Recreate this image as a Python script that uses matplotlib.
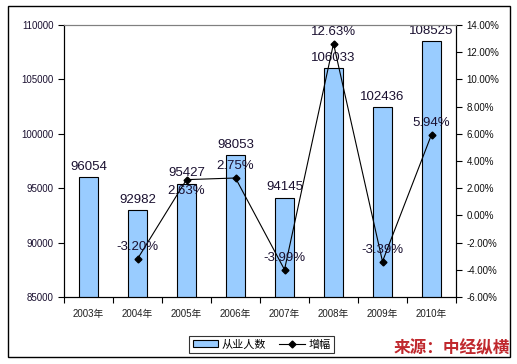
import matplotlib
matplotlib.use("Agg")
import matplotlib.pyplot as plt
from matplotlib.patches import Patch, Rectangle
from matplotlib.lines import Line2D
import numpy as np

plt.rcParams['font.family'] = ['Liberation Sans', 'Noto Sans CJK SC', 'DejaVu Sans']

years = ["2003年", "2004年", "2005年", "2006年", "2007年", "2008年", "2009年", "2010年"]
employees = [96054, 92982, 95427, 98053, 94145, 106033, 102436, 108525]
growth = [None, -3.20, 2.63, 2.75, -3.99, 12.63, -3.39, 5.94]
growth_labels = ["", "-3.20%", "2.63%", "2.75%", "-3.99%", "12.63%", "-3.39%", "5.94%"]
growth_label_pos = ["", "above", "below", "above", "above", "above", "above", "above"]

fig = plt.figure(figsize=(5.17, 3.64), dpi=100)
ax = fig.add_axes([64/517, 67/364, 392/517, 272/364])
ax2 = ax.twinx()

x = np.arange(len(years))
bars = ax.bar(x, employees, width=0.4, color="#99ccff", edgecolor="black", linewidth=0.8, zorder=2)
ax.set_xlim(-0.5, len(years) - 0.5)
ax.set_ylim(85000, 110000)
ax.set_yticks(np.arange(85000, 110001, 5000))
ax.set_xticks(x)
ax.set_xticklabels(years, fontsize=7, color="#202020")
ax.set_xticks(np.arange(-0.5, len(years), 1), minor=True)
ax.tick_params(axis='x', which='major', length=0, pad=9)
ax.tick_params(axis='x', which='minor', length=4, direction='out', width=0.8)
ax.tick_params(axis='y', labelsize=7, length=4, direction='out', width=0.8, labelcolor="#1a1030")

for xi, v in zip(x, employees):
    ax.annotate(f"{v}", (xi, v), xytext=(0, 3), textcoords="offset points",
                ha="center", va="bottom", fontsize=9.5, color="#1a1030", zorder=5)

gx = [xi for xi, g in zip(x, growth) if g is not None]
gy = [g for g in growth if g is not None]
ax2.plot(gx, gy, color="black", linewidth=0.8, marker="D", markersize=3.5,
         markerfacecolor="black", zorder=4)
ax2.set_ylim(-6, 14)
ax2.set_yticks(np.arange(-6, 14.01, 2))
ax2.set_yticklabels([f"{t:.2f}%" for t in np.arange(-6, 14.01, 2)])
ax2.tick_params(axis='y', labelsize=7, length=4, direction='out', width=0.8, labelcolor="#101010")

for xi, g, lab, pos in zip(x, growth, growth_labels, growth_label_pos):
    if g is None:
        continue
    if pos == "above":
        ax2.annotate(lab, (xi, g), xytext=(0, 4), textcoords="offset points",
                     ha="center", va="bottom", fontsize=9.5, color="#1a1030", zorder=6)
    else:
        ax2.annotate(lab, (xi, g), xytext=(0, -4), textcoords="offset points",
                     ha="center", va="top", fontsize=9.5, color="#1a1030", zorder=6)

for a in (ax, ax2):
    a.spines['top'].set_color("#808080")
    a.spines['top'].set_linewidth(0.8)
    for s in ('left', 'right', 'bottom'):
        a.spines[s].set_linewidth(0.8)

handles = [Patch(facecolor="#99ccff", edgecolor="black", linewidth=0.8),
           Line2D([0], [0], color="black", linewidth=0.8, marker="D", markersize=3.5)]
leg = fig.legend(handles, ["从业人数", "增幅"], loc="center",
                 bbox_to_anchor=(261.5/517, 1 - 344.5/364), ncol=2, frameon=True,
                 fancybox=False, edgecolor="black",
                 handlelength=2.3, handleheight=0.6, columnspacing=1.2,
                 borderpad=0.35, handletextpad=0.3,
                 prop={'family': ['Noto Sans CJK SC'], 'size': 8})
leg.get_frame().set_linewidth(0.8)

fig.patches.append(Rectangle((8/517, 1 - 357/364), 502/517, 351/364, transform=fig.transFigure,
                             fill=False, edgecolor="black", linewidth=1.0))

fig.text(510/517, 1 - 348/364, "来源：中经纵横", ha="right", va="center",
         fontsize=12, fontweight="bold", color="#c0282d",
         family=['Noto Sans CJK SC'], style='italic')

fig.savefig("out.png", dpi=100)
